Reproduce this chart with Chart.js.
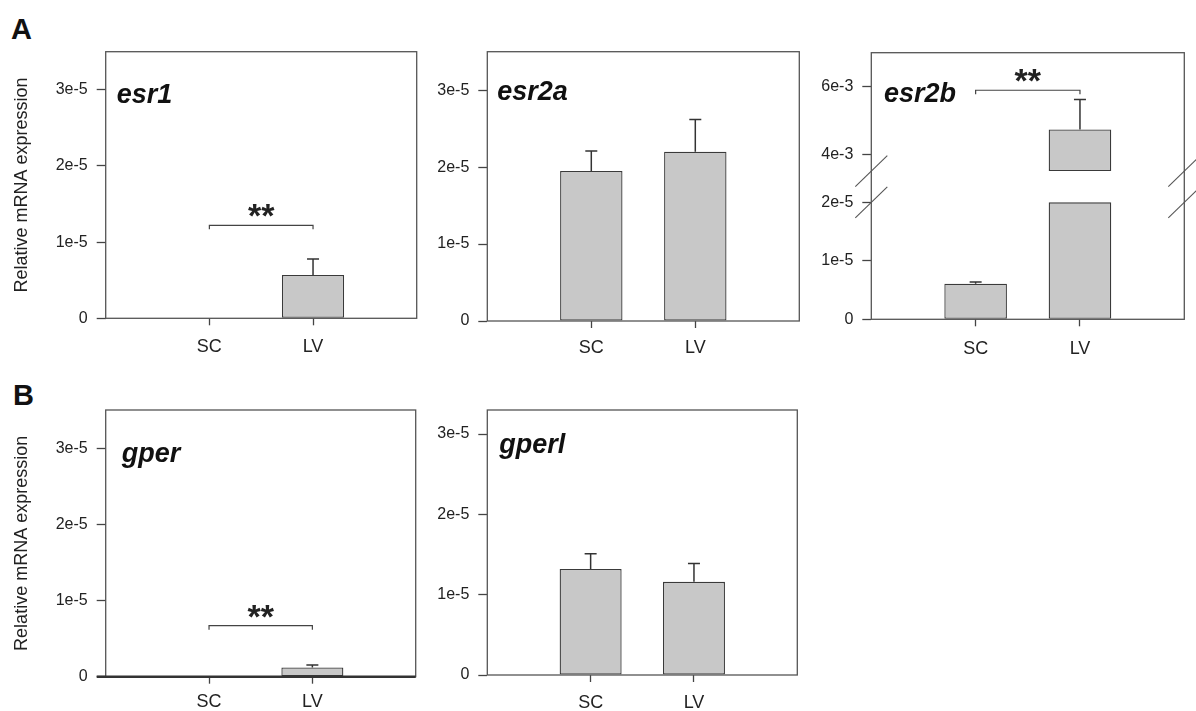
<!DOCTYPE html>
<html>
<head>
<meta charset="utf-8">
<script src="https://cdn.jsdelivr.net/npm/chart.js@4.4.0/dist/chart.umd.min.js"></script>
<style>
  body { margin: 0; background: #fff; }
  #fig { position: relative; width: 1196px; height: 711px; overflow: hidden; font-family: 'Liberation Sans', Arial, sans-serif; }
  #fig canvas { position: absolute; }
  .tag { position: absolute; font-weight: bold; font-size: 29px; line-height: 29px; color: #111; }
</style>
</head>
<body>
<div id="fig">
  <div class="tag" style="left:11px; top:14.6px">A</div>
  <div class="tag" style="left:13px; top:381px">B</div>
  <canvas id="esr1" width="420" height="360" style="left:0; top:0"></canvas>
  <canvas id="esr2a" width="385" height="360" style="left:420px; top:0"></canvas>
  <canvas id="esr2b" width="391" height="360" style="left:805px; top:0"></canvas>
  <canvas id="gper" width="420" height="351" style="left:0; top:360px"></canvas>
  <canvas id="gperl" width="385" height="351" style="left:420px; top:360px"></canvas>
</div>
<script>
// ---- data ----
const categories = ['SC', 'LV'];
const esr1Mean = [0, 0.57e-5];
const esr1Err = [0, 0.21e-5];
const esr2aMean = [1.95e-5, 2.2e-5];
const esr2aErr = [0.26e-5, 0.42e-5];
const esr2bMean = [0.61e-5, 4.73e-3];
const esr2bErr = [0.03e-5, 0.89e-3];
const gperMean = [0, 0.12e-5];
const gperErr = [0, 0.035e-5];
const gperlMean = [1.32e-5, 1.16e-5];
const gperlErr = [0.19e-5, 0.23e-5];
const yTicks = [0, 1e-5, 2e-5, 3e-5];
const esr2bLowTicks = [0, 1e-5, 2e-5];
const esr2bHighTicks = [4e-3, 6e-3];
// height of the SC-LV significance bracket
const esr1Sig = 1.22e-5;
const esr2bSig = 5.89e-3;
const gperSig = 0.67e-5;

const FONT = "'Liberation Sans', Arial, sans-serif";
const labels = ['', ...categories, ''];
const pad = arr => [null, ...arr, null];

function fmt(v) {
  if (v === 0) return '0';
  const e = Math.floor(Math.log10(Math.abs(v)) + 1e-9);
  return Math.round(v / Math.pow(10, e)) + 'e' + e;
}

// draws the frame, error bars, bracket, gene name and axis breaks
const decor = {
  id: 'decor',
  afterDatasetsDraw(chart, args, o) {
    const ctx = chart.ctx, a = chart.chartArea, xs = chart.scales.x;
    ctx.save();
    chart.data.datasets.forEach((ds, di) => {
      if (!ds.errors) return;
      const meta = chart.getDatasetMeta(di);
      const ys = chart.scales[meta.yAxisID];
      ds.data.forEach((v, i) => {
        const e = ds.errors[i];
        if (v === null || !e) return;
        const top = Array.isArray(v) ? v[1] : v;
        const x = meta.data[i].x;
        const y0 = ys.getPixelForValue(top), y1 = ys.getPixelForValue(top + e);
        ctx.strokeStyle = '#333';
        ctx.lineWidth = 1.5;
        ctx.beginPath();
        ctx.moveTo(x, y0); ctx.lineTo(x, y1);
        ctx.moveTo(x - 6, y1); ctx.lineTo(x + 6, y1);
        ctx.stroke();
      });
    });

    ctx.strokeStyle = '#555';
    ctx.lineWidth = 1.3;
    ctx.strokeRect(a.left, a.top, a.right - a.left, a.bottom - a.top);
    if (o.thickBase) {
      ctx.strokeStyle = '#333';
      ctx.lineWidth = 2.6;
      ctx.beginPath();
      ctx.moveTo(a.left - 9, a.bottom); ctx.lineTo(a.right, a.bottom);
      ctx.stroke();
    }

    if (o.sig) {
      const y = chart.scales[o.sig.axis].getPixelForValue(o.sig.value);
      const x0 = xs.getPixelForValue(1), x1 = xs.getPixelForValue(2);
      ctx.strokeStyle = '#444';
      ctx.lineWidth = 1.2;
      ctx.beginPath();
      ctx.moveTo(x0, y + 4); ctx.lineTo(x0, y); ctx.lineTo(x1, y); ctx.lineTo(x1, y + 4);
      ctx.stroke();
      ctx.fillStyle = '#222';
      ctx.font = 'bold 34px ' + FONT;
      ctx.textAlign = 'center';
      ctx.textBaseline = 'alphabetic';
      ctx.fillText('**', (x0 + x1) / 2, y + 2);
    }

    if (o.breaks) {
      const yH = chart.scales.yHigh.getPixelForValue(o.breaks.high);
      const yL = chart.scales.yLow.getPixelForValue(o.breaks.low);
      ctx.strokeStyle = '#555';
      ctx.lineWidth = 1.1;
      [a.left, a.right].forEach(x => [yH, yL].forEach(y => {
        ctx.beginPath();
        ctx.moveTo(x - 16, y + 15.5); ctx.lineTo(x + 16, y - 15.5);
        ctx.stroke();
      }));
    }

    ctx.fillStyle = '#111';
    ctx.font = 'italic bold 27px ' + FONT;
    ctx.textAlign = 'left';
    ctx.textBaseline = 'alphabetic';
    ctx.fillText(o.gene, a.left + o.geneAt[0], a.top + o.geneAt[1]);
    ctx.restore();
  }
};

function xScale(h, padding) {
  return {
    type: 'category',
    offset: false,
    grid: {
      offset: false, drawOnChartArea: false, tickLength: 7, tickWidth: 1.3,
      tickColor: c => labels[c.index] ? '#444' : 'rgba(0,0,0,0)'
    },
    border: { display: false },
    ticks: { font: { family: FONT, size: 18 }, color: '#222', padding: padding, autoSkip: false, maxRotation: 0 },
    afterFit: s => {
      s.height = h;
      // tick padding would otherwise widen the side margins
      s.paddingLeft = 0;
      s.paddingRight = 0;
    }
  };
}

function yScale(w, min, max, ticks, extra) {
  return Object.assign({
    type: 'linear',
    axis: 'y',
    min: min,
    max: max,
    grid: { drawOnChartArea: false, tickLength: 9, tickWidth: 1.3, tickColor: '#444' },
    border: { display: false },
    ticks: { font: { family: FONT, size: 16 }, color: '#222', padding: 9, callback: fmt },
    afterBuildTicks: s => { s.ticks = ticks.map(v => ({ value: v })); },
    afterFit: s => { s.width = w; }
  }, extra || {});
}

const barStyle = {
  backgroundColor: '#c8c8c8',
  borderColor: '#3a3a3a',
  borderWidth: 1.3,
  borderSkipped: false,
  barPercentage: 0.6,
  categoryPercentage: 1,
  grouped: false
};

function yTitle(show) {
  return {
    display: show,
    text: 'Relative mRNA expression',
    color: '#222',
    font: { family: FONT, size: 18 },
    padding: { top: 11, bottom: 0 }
  };
}

function simplePanel(id, mean, err, p) {
  return new Chart(document.getElementById(id), {
    type: 'bar',
    plugins: [decor],
    data: {
      labels: labels,
      datasets: [Object.assign({ data: pad(mean), errors: pad(err) }, barStyle)]
    },
    options: {
      responsive: false,
      animation: false,
      layout: { padding: { left: 0, top: p.top, right: p.right, bottom: 0 } },
      scales: {
        x: xScale(p.xh, p.xpad),
        y: yScale(p.yw, 0, p.max, yTicks, { title: yTitle(p.title) })
      },
      plugins: {
        legend: { display: false },
        tooltip: { enabled: false },
        decor: { gene: id, geneAt: p.geneAt, sig: p.sig, thickBase: p.thickBase }
      }
    }
  });
}

simplePanel('esr1', esr1Mean, esr1Err, {
  top: 51.7, right: 3.3, xh: 41.7, xpad: 11, yw: 105.7, max: 3.5e-5, title: true,
  geneAt: [11, 51], sig: { axis: 'y', value: esr1Sig }
});
simplePanel('esr2a', esr2aMean, esr2aErr, {
  top: 51.7, right: 5.7, xh: 39, xpad: 9.5, yw: 67.3, max: 3.5e-5, title: false,
  geneAt: [10, 48.3]
});
simplePanel('gper', gperMean, gperErr, {
  top: 50, right: 4.3, xh: 34.3, xpad: 8, yw: 105.7, max: 3.5e-5, title: true,
  geneAt: [16, 51.7], sig: { axis: 'y', value: gperSig }, thickBase: true
});
simplePanel('gperl', gperlMean, gperlErr, {
  top: 50, right: 7.7, xh: 36, xpad: 10.5, yw: 67.3, max: 3.3e-5, title: false,
  geneAt: [12, 43.3]
});

// esr2b: broken y axis, two stacked scales
const breakLow = 2e-5, breakHigh = 3.5e-3;
const lowSeg = esr2bMean.map(v => [0, Math.min(v, breakLow)]);
const lowErr = esr2bMean.map((v, i) => v <= breakLow ? esr2bErr[i] : 0);
const highSeg = esr2bMean.map(v => v > breakHigh ? [breakHigh, v] : null);
const highErr = esr2bMean.map((v, i) => v > breakHigh ? esr2bErr[i] : 0);

new Chart(document.getElementById('esr2b'), {
  type: 'bar',
  plugins: [decor],
  data: {
    labels: labels,
    datasets: [
      Object.assign({ data: pad(lowSeg), errors: pad(lowErr), yAxisID: 'yLow' }, barStyle),
      Object.assign({ data: pad(highSeg), errors: pad(highErr), yAxisID: 'yHigh' }, barStyle)
    ]
  },
  options: {
    responsive: false,
    animation: false,
    layout: { padding: { left: 0, top: 52.7, right: 11.7, bottom: 0 } },
    scales: {
      x: xScale(40.7, 11.5),
      yLow: yScale(66.3, 0, 2.28e-5, esr2bLowTicks, { position: 'left', stack: 'esr2b', stackWeight: 1 }),
      yHigh: yScale(66.3, 3.06e-3, 7e-3, esr2bHighTicks, { position: 'left', stack: 'esr2b', stackWeight: 1 })
    },
    plugins: {
      legend: { display: false },
      tooltip: { enabled: false },
      decor: {
        gene: 'esr2b', geneAt: [12.7, 49],
        sig: { axis: 'yHigh', value: esr2bSig },
        breaks: { low: breakLow, high: breakHigh }
      }
    }
  }
});
</script>
</body>
</html>
